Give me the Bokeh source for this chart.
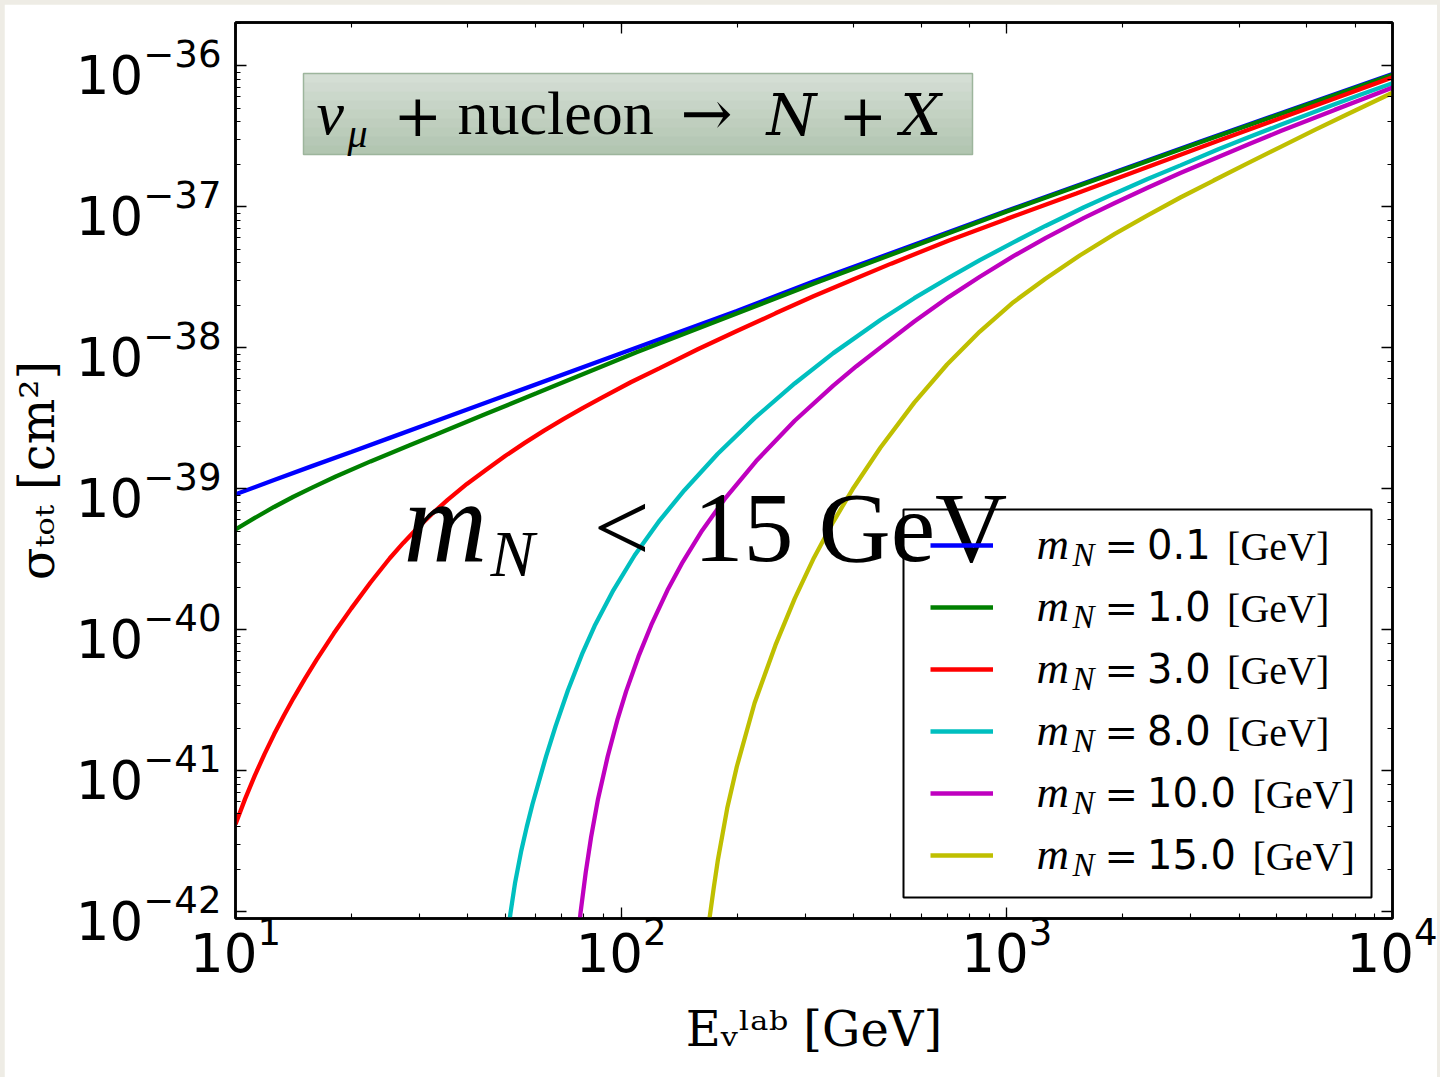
from bokeh.plotting import figure
from bokeh.models import (Range1d, LogAxis, LogTicker, Label, BoxAnnotation,
                          Legend, LegendItem, CustomJSTickFormatter)
from bokeh.layouts import column
from bokeh.embed import file_html
from bokeh.resources import INLINE

# ---------------- data ----------------
masses = ["0.1", "1.0", "3.0", "8.0", "10.0", "15.0"]
colors = ["#0000FF", "#008000", "#FF0000", "#00BFBF", "#BF00BF", "#BFBF00"]

E_m01 = [10, 12.59, 15.85, 19.95, 25.12, 31.62, 50.12, 100, 199.5, 316.2, 1000, 3162, 10000]
S_m01 = [9.12e-40, 1.15e-39, 1.45e-39, 1.82e-39, 2.29e-39, 2.88e-39, 4.57e-39, 9.12e-39,
         1.82e-38, 2.95e-38, 9.33e-38, 2.88e-37, 8.71e-37]

E_m1 = [10, 11.22, 12.59, 14.13, 15.85, 18.2, 22.39, 28.18, 33.11, 44.67, 60.26, 109.6,
        316.2, 1000, 3162, 10000]
S_m1 = [5.13e-40, 6.20e-40, 7.41e-40, 8.76e-40, 1.02e-39, 1.22e-39, 1.56e-39, 2.02e-39,
        2.42e-39, 3.39e-39, 4.74e-39, 9.27e-39, 2.85e-38, 9.23e-38, 2.85e-37, 8.61e-37]

E_m3 = [10, 10.59, 11.22, 11.89, 12.59, 13.34, 14.13, 15.14, 16.22, 17.99, 19.95, 22.39,
        25.12, 27.23, 29.51, 32.36, 35.48, 39.81, 44.67, 50.12, 56.23, 63.10, 70.79, 79.43,
        89.13, 105.9, 125.9, 158.5, 199.5, 251.2, 316.2, 398.1, 501.2, 707.9, 1000, 1514,
        2317, 3548, 5012, 7079, 10000]
S_m3 = [4.17e-42, 6.31e-42, 9.23e-42, 1.31e-41, 1.81e-41, 2.45e-41, 3.26e-41, 4.50e-41,
        6.11e-41, 9.42e-41, 1.41e-40, 2.16e-40, 3.21e-40, 4.12e-40, 5.20e-40, 6.64e-40,
        8.32e-40, 1.08e-39, 1.36e-39, 1.71e-39, 2.11e-39, 2.58e-39, 3.11e-39, 3.72e-39,
        4.42e-39, 5.68e-39, 7.16e-39, 9.77e-39, 1.31e-38, 1.75e-38, 2.32e-38, 3.03e-38,
        3.94e-38, 5.75e-38, 8.18e-38, 1.24e-37, 1.91e-37, 2.94e-37, 4.14e-37, 5.85e-37,
        8.26e-37]

E_m8 = [50.12, 51.64, 53.09, 55.08, 56.89, 58.88, 63.90, 67.61, 72.78, 79.43, 85.31, 95.50,
        108.4, 125.9, 145.9, 177.8, 221.8, 281.8, 354.8, 469.9, 575.4, 707.9, 851.1, 1040,
        1259, 1585, 1905, 2317, 2818, 3548, 4266, 5129, 6026, 7079, 8318, 10000]
S_m8 = [5.01e-43, 9.77e-43, 1.61e-42, 2.71e-42, 3.98e-42, 5.78e-42, 1.27e-41, 2.07e-41,
        3.72e-41, 6.85e-41, 1.06e-40, 1.91e-40, 3.37e-40, 5.96e-40, 9.75e-40, 1.76e-39,
        3.16e-39, 5.57e-39, 9.14e-39, 1.57e-38, 2.24e-38, 3.14e-38, 4.17e-38, 5.58e-38,
        7.29e-38, 9.89e-38, 1.24e-37, 1.57e-37, 1.96e-37, 2.56e-37, 3.13e-37, 3.80e-37,
        4.50e-37, 5.31e-37, 6.25e-37, 7.50e-37]

E_m10 = [76.74, 78.52, 80.91, 83.56, 87.10, 92.26, 97.72, 103.0, 110.9, 119.7, 131.8, 144.5,
         162.2, 185.4, 223.9, 281.8, 354.8, 407.4, 469.9, 575.4, 707.9, 851.1, 1040, 1259,
         1585, 1905, 2317, 2818, 3548, 4266, 5129, 6026, 7079, 8318, 10000]
S_m10 = [5.62e-43, 1.00e-42, 1.89e-42, 3.38e-42, 6.30e-42, 1.26e-41, 2.28e-41, 3.65e-41,
         6.46e-41, 1.08e-40, 1.90e-40, 3.03e-40, 5.05e-40, 8.41e-40, 1.57e-39, 3.03e-39,
         5.38e-39, 7.38e-39, 1.00e-38, 1.53e-38, 2.29e-38, 3.18e-38, 4.45e-38, 5.98e-38,
         8.32e-38, 1.06e-37, 1.36e-37, 1.73e-37, 2.26e-37, 2.79e-37, 3.43e-37, 4.08e-37,
         4.85e-37, 5.75e-37, 6.98e-37]

E_m15 = [165.96, 169.4, 173.8, 178.2, 188.4, 199.5, 221.8, 251.2, 281.8, 316.2, 354.8,
         398.1, 469.9, 575.4, 699.8, 851.1, 1040, 1259, 1549, 1905, 2317, 2818, 3436, 4169,
         5129, 6310, 7638, 10000]
S_m15 = [5.37e-43, 8.91e-43, 1.48e-42, 2.34e-42, 5.43e-42, 1.07e-41, 3.02e-41, 7.76e-41,
         1.66e-40, 3.24e-40, 5.82e-40, 9.89e-40, 1.95e-39, 4.07e-39, 7.59e-39, 1.30e-38,
         2.10e-38, 3.08e-38, 4.52e-38, 6.40e-38, 8.67e-38, 1.16e-37, 1.53e-37, 2.00e-37,
         2.65e-37, 3.51e-37, 4.52e-37, 6.41e-37]

energies = [E_m01, E_m1, E_m3, E_m8, E_m10, E_m15]
sigmas = [S_m01, S_m1, S_m3, S_m8, S_m10, S_m15]

x_title = "Eᵥˡᵃᵇ [GeV]"
y_title = "σₜₒₜ [cm²]"

# ---------------- figure ----------------
p = figure(width=1433, height=1073, x_axis_type="log", y_axis_type="log",
           x_range=Range1d(10, 1e4), y_range=Range1d(8.95e-43, 2.02e-36),
           output_backend="svg", toolbar_location=None,
           min_border_left=231, min_border_right=45, min_border_top=18, min_border_bottom=159)
p.background_fill_color = "white"
p.border_fill_color = "white"
p.outline_line_color = "black"
p.outline_line_width = 2.5
p.xgrid.visible = False
p.ygrid.visible = False

bottom_ax = p.below[0]
left_ax = p.left[0]
top_ax = LogAxis(ticker=LogTicker(), formatter=CustomJSTickFormatter(code="return ''"))
right_ax = LogAxis(ticker=LogTicker(), formatter=CustomJSTickFormatter(code="return ''"))
p.add_layout(top_ax, "above")
p.add_layout(right_ax, "right")

for ax in [bottom_ax, left_ax, top_ax, right_ax]:
    ax.major_tick_in = 11
    ax.major_tick_out = 0
    ax.minor_tick_in = 5
    ax.minor_tick_out = 0
    ax.major_tick_line_color = "black"
    ax.minor_tick_line_color = "black"
    ax.major_tick_line_width = 1.3
    ax.minor_tick_line_width = 1.1
    ax.axis_line_color = "black"
    ax.axis_line_width = 2.5
    ax.major_label_text_font = "DejaVu Sans"
    ax.major_label_text_font_size = "53px"
    ax.major_label_text_color = "black"
for ax in [top_ax, right_ax]:
    ax.major_label_text_font_size = "1px"
    ax.major_label_standoff = 0
bottom_ax.major_label_standoff = -3
left_ax.major_label_standoff = 14

for ax, title, stand in [(bottom_ax, x_title, 26), (left_ax, y_title, 8)]:
    ax.axis_label = title
    ax.axis_label_text_font = "DejaVu Serif"
    ax.axis_label_text_font_size = "48px"
    ax.axis_label_text_font_style = "normal"
    ax.axis_label_text_color = "black"
    ax.axis_label_standoff = stand

renderers = []
for E, S, c in zip(energies, sigmas, colors):
    renderers.append(p.line(E, S, line_color=c, line_width=4.3))

# page-pixel -> frame screen units
FL, FB = 235.0, 918.0
def sx(px):
    return px - FL
def sy(py):
    return FB - py

def lab(px, py, text, size, italic=False, font="Liberation Serif"):
    # py is the wanted baseline (page pixels); compensate the renderer's baseline offset
    p.add_layout(Label(x=sx(px), y=sy(py - 0.36 * size), x_units="screen", y_units="screen",
                       text=text, text_font=font, text_font_size=f"{size}px",
                       text_font_style="italic" if italic else "normal",
                       text_color="black", text_align="left", text_baseline="alphabetic"))

# ---------------- title box ----------------
bx0, bx1, by0, by1 = 303, 972, 73, 154
c_top = (0xD6, 0xDF, 0xD6)
c_bot = (0xB0, 0xC4, 0xAF)
nb = 9
for i in range(nb):
    t = (i + 0.5) / nb
    col = "#%02x%02x%02x" % tuple(int(round(a + (b - a) * t)) for a, b in zip(c_top, c_bot))
    y_a = by0 + (by1 - by0) * i / nb
    y_b = min(by0 + (by1 - by0) * (i + 1) / nb + 0.6, by1)
    p.add_layout(BoxAnnotation(left=sx(bx0), right=sx(bx1), top=sy(y_a), bottom=sy(y_b),
                               left_units="screen", right_units="screen",
                               top_units="screen", bottom_units="screen",
                               fill_color=col, fill_alpha=1.0, line_alpha=0))
p.add_layout(BoxAnnotation(left=sx(bx0), right=sx(bx1), top=sy(by0), bottom=sy(by1),
                           left_units="screen", right_units="screen",
                           top_units="screen", bottom_units="screen",
                           fill_alpha=0, line_color="#9DB59C", line_width=1.5, line_alpha=1.0))
lab(316, 135, "ν", 62, italic=True)
lab(347, 147, "μ", 40, italic=True)
lab(393, 135, "+", 58, font="DejaVu Serif")
lab(457, 135, "nucleon", 62)
lab(680, 135, "→", 62, font="DejaVu Serif")
lab(766, 135, "N", 57, italic=True, font="DejaVu Serif")
lab(838, 135, "+", 58, font="DejaVu Serif")
lab(900, 135, "X", 57, italic=True, font="DejaVu Serif")

# ---------------- legend ----------------
p.add_layout(BoxAnnotation(left=sx(903), right=sx(1371), top=sy(509), bottom=sy(897),
                           left_units="screen", right_units="screen",
                           top_units="screen", bottom_units="screen",
                           fill_color="white", fill_alpha=1.0,
                           line_color="black", line_width=2, line_alpha=1.0))
legend = Legend(items=[LegendItem(label=m, renderers=[r]) for m, r in zip(masses, renderers)],
                location=(sx(930), sy(886)), padding=0, spacing=0, margin=0,
                glyph_width=63, glyph_height=62, label_height=62, label_standoff=154,
                label_text_font="DejaVu Sans", label_text_font_size="40px",
                label_text_color="black",
                border_line_alpha=0, background_fill_alpha=0)
p.add_layout(legend)

adv = {".": 0.318}
for i, m in enumerate(masses):
    yc = 545 + 62 * i
    lab(1036, yc + 15, "m", 45, italic=True)
    lab(1072, yc + 21, "N", 33, italic=True)
    lab(1104, yc + 15, "=", 40, font="DejaVu Serif")
    w = 40 * sum(adv.get(ch, 0.636) for ch in m)
    lab(1147 + w + 16, yc + 15, "[GeV]", 40)

# ---------------- big annotation ----------------
lab(403, 563, "m", 116, italic=True)
lab(490, 577, "N", 66, italic=True)
lab(593, 563, "<", 100)
lab(693, 563, "15 GeV", 100)

layout = column(p, styles={"background-color": "#EEECE5", "padding": "4px 3px 0px 4px"})
open("out.html", "w").write(file_html(layout, INLINE))
